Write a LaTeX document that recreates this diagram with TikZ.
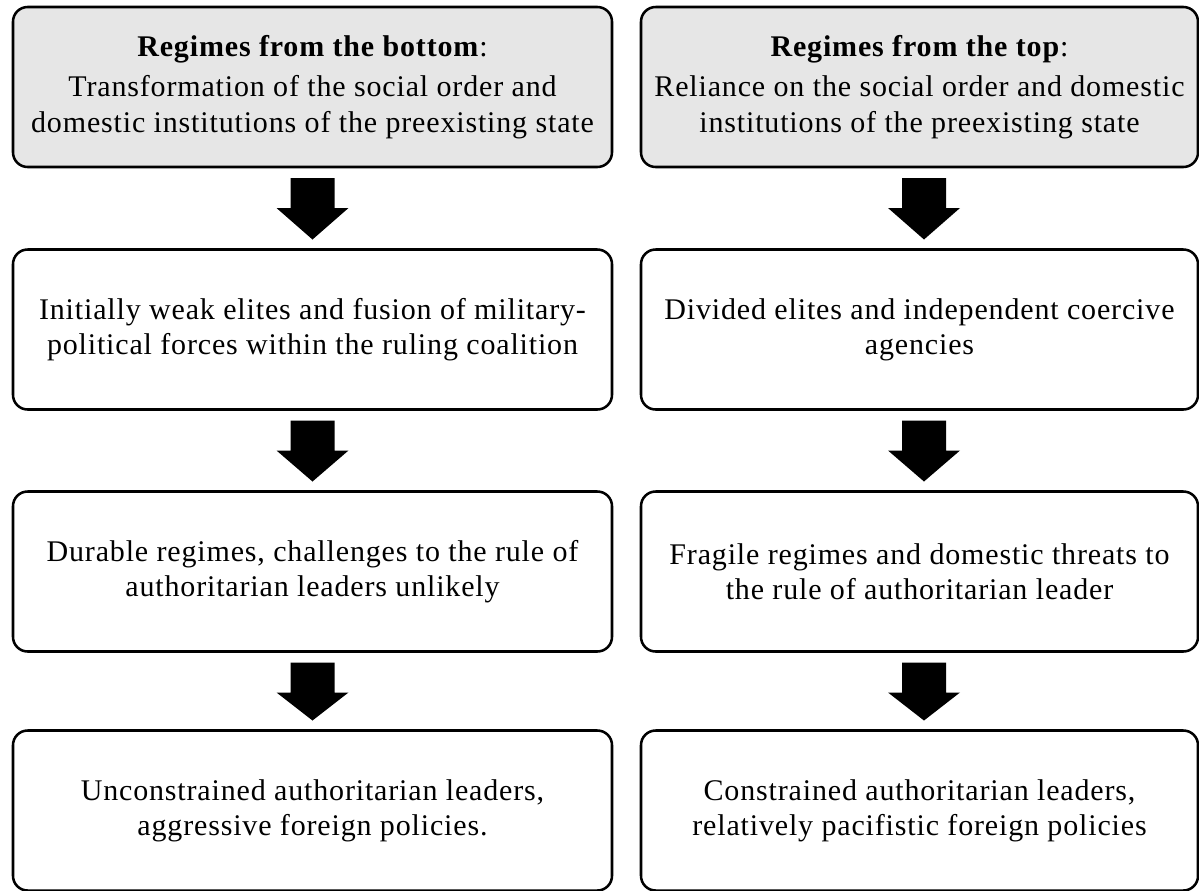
\documentclass[tikz,border=0pt]{standalone}
\usepackage{fontspec}
\setmainfont[LetterSpace=2.8]{Liberation Serif}
\usetikzlibrary{calc}
\definecolor{boxgray}{RGB}{230,230,230}
\newcommand\blockarr[3][0]{%
  \fill ($(#2.south)+(#1-22,11)$) -- ($(#2.south)+(#1+22,11)$) -- ($(#2.south)+(#1+22,41)$) -- ($(#2.south)+(#1+36,41)$) -- ($(#3.north)+(#1,-10)$) -- ($(#2.south)+(#1-36,41)$) -- ($(#2.south)+(#1-22,41)$) -- cycle;}
\begin{document}
\begin{tikzpicture}[x=0.75pt,y=-0.75pt,
  box/.style={draw=black, line width=1.9pt, rounded corners=11pt, outer sep=0pt, inner sep=0pt,
    minimum height={160*0.75pt}, align=center, font=\fontsize{22.5pt}{26.5pt}\selectfont},
  lbox/.style={box, minimum width={599*0.75pt}},
  rbox/.style={box, minimum width={557*0.75pt}},
  head/.style={fill=boxgray}]
\useasboundingbox (0,0) rectangle (1199,890);
\node[lbox, head] (L1) at (312.5,87) {\textbf{Regimes from the bottom}:\\[4pt]Transformation of the social order and\\domestic institutions of the preexisting state};
\node[rbox, head] (R1) at (919.5,87) {\textbf{Regimes from the top}:\\[4pt]Reliance on the social order and domestic\\institutions of the preexisting state};
\node[lbox] (L2) at (312.5,329.5) {Initially weak elites and fusion of military-\\political forces within the ruling coalition};
\node[rbox] (R2) at (919.5,329.5) {Divided elites and independent coercive\\agencies};
\node[lbox] (L3) at (312.5,571.5) {Durable regimes, challenges to the rule of\\authoritarian leaders unlikely};
\node[rbox] (R3) at (919.5,571.5) {Fragile regimes and domestic threats to\\the rule of authoritarian leader};
\node[lbox] (L4) at (312.5,810.5) {Unconstrained authoritarian leaders,\\aggressive foreign policies.};
\node[rbox] (R4) at (919.5,810.5) {Constrained authoritarian leaders,\\relatively pacifistic foreign policies};
\blockarr{L1}{L2}
\blockarr{L2}{L3}
\blockarr{L3}{L4}
\blockarr[4.5]{R1}{R2}
\blockarr[4.5]{R2}{R3}
\blockarr[4.5]{R3}{R4}
\end{tikzpicture}
\end{document}
